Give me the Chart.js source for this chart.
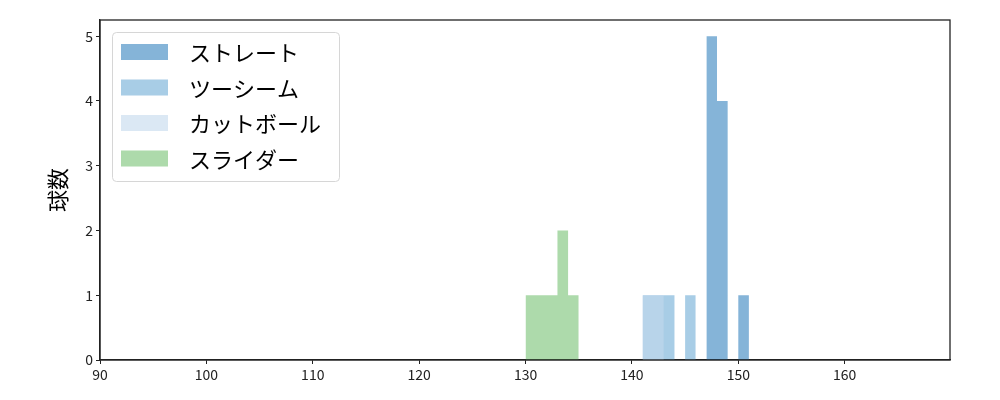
<!DOCTYPE html>
<html>
<head>
<meta charset="utf-8">
<script src="https://cdn.jsdelivr.net/npm/chart.js@4.4.0/dist/chart.umd.min.js"></script>
<style>
  html, body { margin: 0; padding: 0; background: #fff; }
  #wrap { width: 1000px; height: 400px; }
</style>
</head>
<body>
<div id="wrap"><canvas id="pitch-hist"></canvas></div>
<script>
const FONT = '"Noto Sans CJK JP", "Noto Sans", sans-serif';

// histogram bins per pitch type: edges and counts (count i is for edges[i]..edges[i+1])
const pitchNames = ['ストレート', 'ツーシーム', 'カットボール', 'スライダー'];
const straightEdges = [147, 148, 149, 150, 151];
const straightCounts = [5, 4, 0, 1];
const twoSeamEdges = [141, 142, 143, 144, 145, 146];
const twoSeamCounts = [1, 1, 1, 0, 1];
const cutterEdges = [141, 142, 143];
const cutterCounts = [1, 1];
const sliderEdges = [130, 131, 132, 133, 134, 135];
const sliderCounts = [1, 1, 1, 2, 1];

const xTicks = [90, 100, 110, 120, 130, 140, 150, 160];
const yTicks = [0, 1, 2, 3, 4, 5];

const colors = [
    'rgba(52, 130, 190, 0.6)',
    'rgba(110, 172, 213, 0.6)',
    'rgba(195, 217, 237, 0.6)',
    'rgba(118, 193, 115, 0.6)'
];

function binPoints(edges, counts) {
    return edges.map((e, i) => ({ x: e, y: i < counts.length ? counts[i] : 0 }));
}

const series = [
    binPoints(straightEdges, straightCounts),
    binPoints(twoSeamEdges, twoSeamCounts),
    binPoints(cutterEdges, cutterCounts),
    binPoints(sliderEdges, sliderCounts)
];

const datasets = series.map((pts, i) => ({
    label: pitchNames[i],
    data: pts,
    stepped: 'before',
    fill: 'origin',
    backgroundColor: colors[i],
    borderColor: 'rgba(0,0,0,0)',
    borderWidth: 0,
    pointRadius: 0,
    order: series.length - i
}));

// box around plot + legend in the upper left, like the original
const framePlugin = {
    id: 'frame',
    afterDatasetsDraw(chart) {
        const ctx = chart.ctx;
        const a = chart.chartArea;
        ctx.save();
        ctx.strokeStyle = '#222';
        ctx.lineWidth = 1.3;
        ctx.strokeRect(a.left, a.top, a.right - a.left, a.bottom - a.top);

        const bx = 112.5, by = 32.5, bw = 227, bh = 149, r = 4;
        ctx.beginPath();
        ctx.roundRect(bx, by, bw, bh, r);
        ctx.fillStyle = 'rgba(255,255,255,0.8)';
        ctx.fill();
        ctx.strokeStyle = '#d6d6d6';
        ctx.lineWidth = 1;
        ctx.stroke();

        ctx.font = '22px ' + FONT;
        ctx.textBaseline = 'middle';
        chart.data.datasets.forEach((ds, i) => {
            const cy = 52 + i * 35.5;
            ctx.fillStyle = ds.backgroundColor;
            ctx.fillRect(121, cy - 8, 47, 16);
            ctx.fillStyle = '#000';
            ctx.fillText(ds.label, 189, cy + 1);
        });
        ctx.restore();
    }
};

const config = {
    type: 'line',
    data: { datasets: datasets },
    options: {
        responsive: true,
        maintainAspectRatio: false,
        animation: false,
        layout: {
            padding: { top: 20, right: 50, left: 0, bottom: 0 }
        },
        plugins: {
            legend: { display: false },
            tooltip: { enabled: false }
        },
        scales: {
            x: {
                type: 'linear',
                min: 90,
                max: 169.9,
                afterBuildTicks: s => { s.ticks = xTicks.map(v => ({ value: v })); },
                afterFit: s => { s.height = 40; },
                grid: { drawOnChartArea: false, drawTicks: true, tickLength: 4, color: '#222', lineWidth: 1 },
                border: { display: true, color: '#222', width: 1.3 },
                ticks: { color: '#222', font: { family: FONT, size: 14 }, padding: 2, maxRotation: 0 }
            },
            y: {
                type: 'linear',
                min: 0,
                max: 5.25,
                afterBuildTicks: s => { s.ticks = yTicks.map(v => ({ value: v })); },
                afterFit: s => { s.width = 100; },
                grid: { drawOnChartArea: false, drawTicks: true, tickLength: 4, color: '#222', lineWidth: 1 },
                border: { display: true, color: '#222', width: 1.3 },
                ticks: { color: '#222', font: { family: FONT, size: 14 }, padding: 3 },
                title: {
                    display: true,
                    text: '球数',
                    color: '#000',
                    font: { family: FONT, size: 22 },
                    padding: { top: 44, bottom: 0 }
                }
            }
        }
    },
    plugins: [framePlugin]
};

var histChart = new Chart(document.getElementById('pitch-hist'), config);
</script>
</body>
</html>
